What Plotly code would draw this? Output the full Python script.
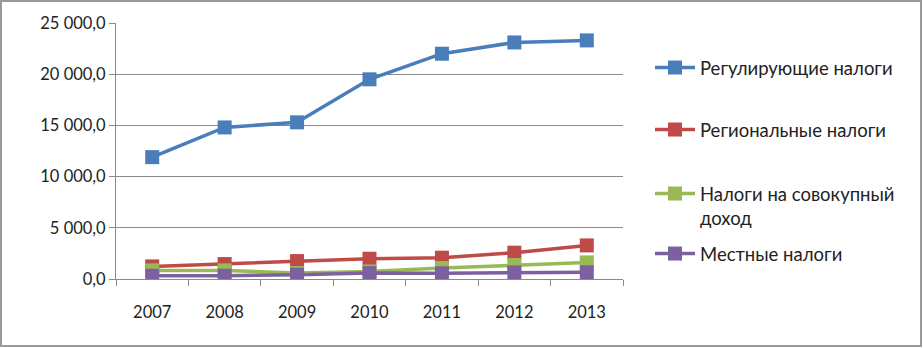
import plotly.graph_objects as go

years = ["2007", "2008", "2009", "2010", "2011", "2012", "2013"]
regulating = [11900, 14800, 15300, 19500, 22000, 23100, 23300]
regional = [1230, 1460, 1750, 1980, 2080, 2570, 3280]
aggregate_income = [840, 840, 590, 740, 1070, 1370, 1620]
local = [320, 320, 420, 580, 560, 640, 660]

series_names = ["Регулирующие налоги", "Региональные налоги",
                "Налоги на совокупный<br>доход", "Местные налоги"]
series_values = [regulating, regional, aggregate_income, local]
colors = ["#4A7EBB", "#BE4B48", "#98B954", "#7D60A0"]

tick_vals = [0, 5000, 10000, 15000, 20000, 25000]
tick_text = ["0,0", "5 000,0", "10 000,0", "15 000,0", "20 000,0", "25 000,0"]

W, H = 923, 348
L, R, T, B = 116, 300, 23, 69
pw, ph = W - L - R, H - T - B


def px_x(p):
    return (p - L) / pw


def px_y(p):
    return (H - B - p) / ph


legend_ids = ["legend", "legend2", "legend3", "legend4"]
legend_centers = [68, 130, 206, 254]

fig = go.Figure()
for name, vals, c, lg in zip(series_names, series_values, colors, legend_ids):
    fig.add_trace(go.Scatter(
        x=years, y=vals, name=name, mode="lines+markers",
        line=dict(color=c, width=3.5),
        marker=dict(symbol="square", size=14, color=c),
        legend=lg,
    ))

fig.add_shape(type="rect", xref="paper", yref="paper",
              x0=px_x(1), x1=px_x(921), y0=px_y(346), y1=px_y(1),
              line=dict(color="#9a9a9a", width=2), layer="below")

legend_common = dict(xanchor="left", yanchor="middle",
                     font=dict(size=18.5, color="#222"),
                     itemwidth=40, bgcolor="rgba(0,0,0,0)", valign="top")
layout_legends = {}
for lg, cy in zip(legend_ids, legend_centers):
    layout_legends[lg] = dict(x=px_x(650), y=px_y(cy), **legend_common)

fig.update_layout(
    width=W, height=H,
    margin=dict(l=L, r=R, t=T, b=B),
    paper_bgcolor="white", plot_bgcolor="white",
    font=dict(family="Lato, Open Sans, sans-serif", size=16.5, color="#222"),
    showlegend=True,
    xaxis=dict(type="category", showgrid=False, showline=True,
               linecolor="#8a8a8a", linewidth=1, ticks="outside",
               tickson="boundaries", ticklen=6, tickcolor="#8a8a8a",
               range=[-0.5, 6.5], fixedrange=True, ticklabelstandoff=18),
    yaxis=dict(range=[0, 25000], tickvals=tick_vals, ticktext=tick_text,
               showgrid=True, gridcolor="#8a8a8a", gridwidth=1,
               showline=True, linecolor="#8a8a8a", ticks="outside",
               ticklen=6, tickcolor="#8a8a8a", zeroline=False),
    **layout_legends,
)

fig.write_html("out.html", config={"displayModeBar": False},
               post_script="document.body.style.margin='0';document.body.style.overflow='hidden';")
